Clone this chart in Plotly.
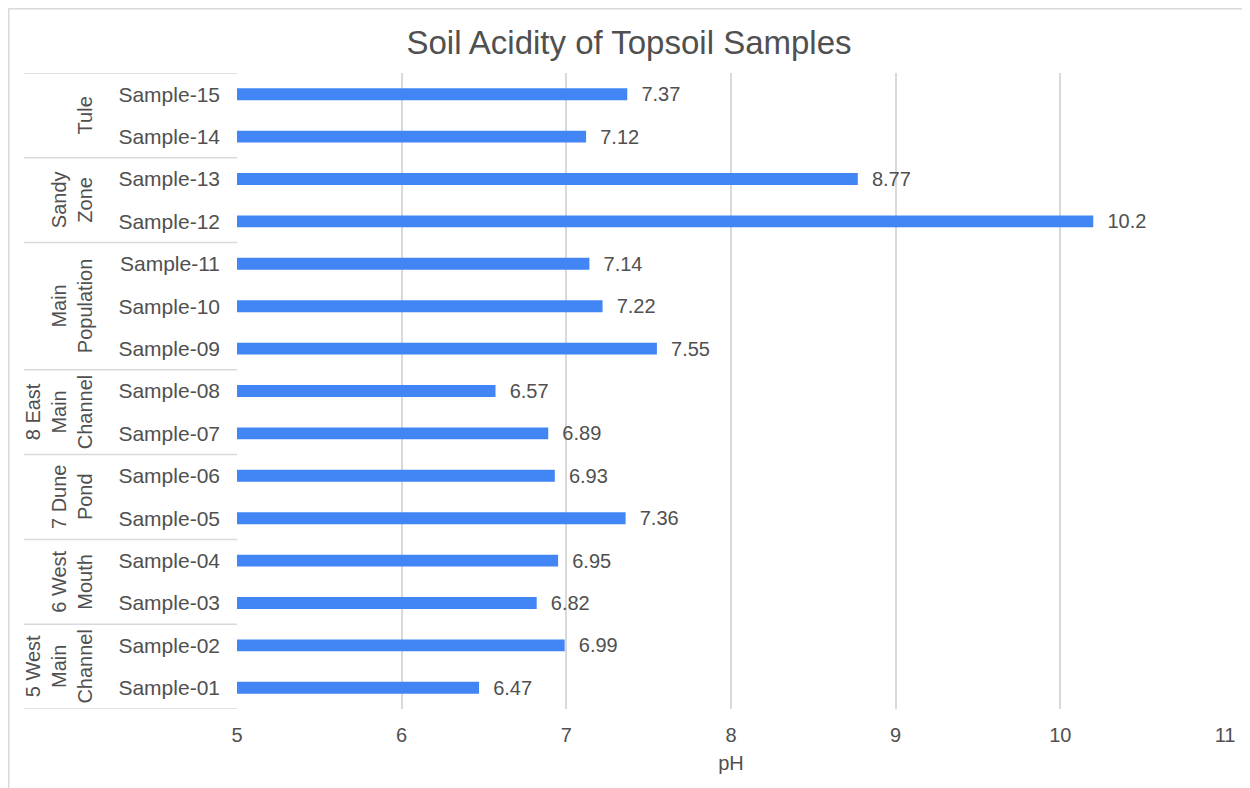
import plotly.graph_objects as go

samples = ["Sample-01", "Sample-02", "Sample-03", "Sample-04", "Sample-05",
           "Sample-06", "Sample-07", "Sample-08", "Sample-09", "Sample-10",
           "Sample-11", "Sample-12", "Sample-13", "Sample-14", "Sample-15"]
ph_values = [6.47, 6.99, 6.82, 6.95, 7.36, 6.93, 6.89, 6.57, 7.55, 7.22,
             7.14, 10.2, 8.77, 7.12, 7.37]
group_names = ["5 West<br>Main<br>Channel", "6 West<br>Mouth", "7 Dune<br>Pond",
               "8 East<br>Main<br>Channel", "Main<br>Population", "Sandy<br>Zone", "Tule"]
group_sizes = [2, 2, 2, 2, 3, 2, 2]
x_ticks = [5, 6, 7, 8, 9, 10, 11]

TEXT = "#505050"
GRID = "#d9d9d9"
FONT = "Liberation Sans, Arial, sans-serif"

# page has an 8px body margin; figure origin sits at page (8, 8)
W, H = 1242, 780
ML, MR, MT, MB = 229, 25, 65, 79
PW = W - ML - MR
PH = H - MT - MB


def px_x(px):
    return (px - ML) / PW


def px_y(py):
    return (H - MB - py) / PH


fig = go.Figure()
fig.add_trace(go.Bar(
    x=ph_values, y=samples, orientation="h",
    marker=dict(color="#4285F4", line=dict(width=0)),
    width=0.28,
    text=["\u00a0\u00a0" + (f"{v:g}") for v in ph_values],
    textposition="outside",
    constraintext="none",
    textfont=dict(size=20, color=TEXT, family=FONT),
    cliponaxis=False,
    hoverinfo="x+y",
))

shapes = []
annotations = []
start = 0
bounds = [-0.5]
for name, size in zip(group_names, group_sizes):
    end = start + size
    bounds.append(end - 0.5)
    annotations.append(dict(
        x=px_x(90), xref="paper", y=(start + end - 1) / 2, yref="y",
        text=name, textangle=-90, showarrow=False, xanchor="right", yanchor="middle",
        align="center", font=dict(size=20, color=TEXT, family=FONT),
    ))
    start = end
for b in bounds:
    shapes.append(dict(type="line", xref="paper", yref="y",
                       x0=px_x(16), x1=0, y0=b, y1=b,
                       line=dict(color=GRID, width=1.5), layer="below"))
# outer chart border (left and top edges visible)
shapes.append(dict(type="rect", xref="paper", yref="paper",
                   x0=px_x(0.75), x1=px_x(1400), y0=px_y(900), y1=px_y(0.75),
                   line=dict(color="#dadada", width=1.5), fillcolor="rgba(0,0,0,0)",
                   layer="below"))

fig.update_layout(
    width=W, height=H,
    margin=dict(l=ML, r=MR, t=MT, b=MB, pad=0),
    paper_bgcolor="white", plot_bgcolor="white",
    font=dict(family=FONT, size=20, color=TEXT),
    title=dict(text="Soil Acidity of Topsoil Samples", x=0.5, xanchor="center",
               y=1 - 34 / H, yanchor="middle",
               font=dict(size=33, color=TEXT, family=FONT)),
    showlegend=False,
    bargap=0.72,
    shapes=shapes,
    annotations=annotations,
    xaxis=dict(range=[5, 11], tickvals=x_ticks, showgrid=True, gridcolor=GRID, gridwidth=1.5,
               zeroline=False, showline=False, ticks="", ticklabelstandoff=12,
               tickfont=dict(size=20, color=TEXT, family=FONT),
               title=dict(text="pH", standoff=10, font=dict(size=20, color=TEXT, family=FONT))),
    yaxis=dict(categoryorder="array", categoryarray=samples, showgrid=False,
               zeroline=False, showline=False, ticks="", ticklabelstandoff=16,
               tickfont=dict(size=21, color=TEXT, family=FONT),
               range=[-0.5, len(samples) - 0.5]),
)

fig.write_html("out.html")
